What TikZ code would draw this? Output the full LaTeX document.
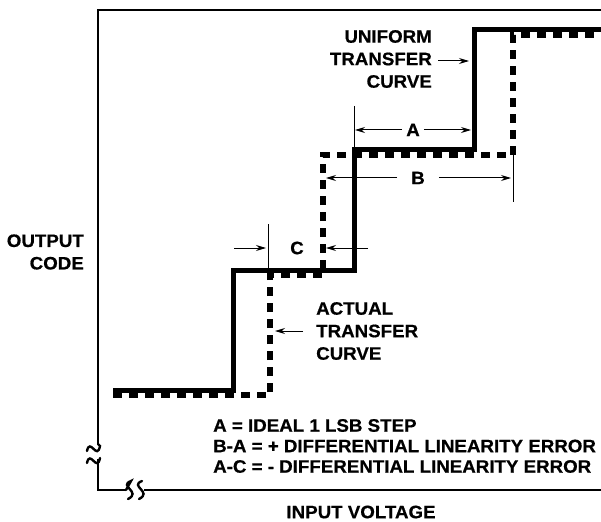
\documentclass[tikz,border=0pt]{standalone}
\usepackage{fontspec}
\setmainfont{Liberation Sans}[FakeStretch=1.04,FakeBold=0.6]
\usetikzlibrary{arrows.meta}
\begin{document}
\begin{tikzpicture}[x=1pt,y=-1pt,
  every node/.style={font=\bfseries\fontsize{18}{22.5}\selectfont, inner sep=0pt},
  axisline/.style={line width=2.4pt},
  uniform/.style={line width=5pt, line join=miter},
  actual/.style={line width=5.5pt, dash pattern=on 9pt off 7pt},
  dimline/.style={line width=1pt},
  dimarrow/.style={line width=1pt, -{Stealth[length=10pt,width=6pt]}},
  legend/.style={font=\bfseries\fontsize{18}{20.5}\selectfont, align=left, anchor=west}]
\useasboundingbox (0,0) rectangle (601,521);
% frame
\coordinate (tl) at (98,10);
\coordinate (tr) at (601,10);
\coordinate (lb1) at (98,444);
\coordinate (lb2) at (98,462);
\coordinate (bl) at (98,490);
\coordinate (bb1) at (126,490);
\coordinate (bb2) at (144,490);
\coordinate (br) at (601,490);
\draw[axisline] (tr) -- (tl) -- (lb1);
\draw[axisline] (lb2) -- (bl) -- (bb1);
\draw[axisline] (bb2) -- (br);
% breaks
\draw[axisline, line cap=round] (87,451) .. controls (90,437) and (97,461) .. (100,446) -- (lb1);
\draw[axisline, line cap=round] (87,463) .. controls (90,449) and (97,473) .. (100,458);
\draw[axisline] (lb2) -- (98,459);
\draw[axisline, line cap=round] (bb1) -- (131,481) .. controls (118,486) and (142,492) .. (128,499);
\draw[axisline, line cap=round] (142,481) .. controls (129,486) and (153,492) .. (139,499);
% uniform transfer curve
\coordinate (u0) at (113,390);
\coordinate (u1) at (233,390);
\coordinate (u2) at (233,270);
\coordinate (u3) at (354,270);
\coordinate (u4) at (354,150);
\coordinate (u5) at (474,150);
\coordinate (u6) at (474,30);
\coordinate (u7) at (601,30);
\draw[uniform] (u0) -- (u1) -- (u2) -- (u3) -- (u4) -- (u5) -- (u6) -- (u7);
% actual transfer curve
\coordinate (a0) at (113,395);
\coordinate (a1) at (270,395);
\coordinate (a2) at (270,275);
\coordinate (a3) at (323,275);
\coordinate (a4) at (323,155);
\coordinate (a5) at (513,155);
\coordinate (a6) at (513,35);
\coordinate (a7) at (601,35);
\draw[actual] (a0) -- (a1) -- (a2) -- (a3) -- (a4) -- (a5) -- (a6) -- (a7);
% dimension A
\coordinate (Aext) at (354,106);
\draw[dimline] (Aext) -- (u4);
\node[inner xsep=4pt] (A) at (413,130) {A};
\coordinate (Al) at (355,130);
\coordinate (Ar) at (471,130);
\draw[dimarrow] (A.west) -- (Al);
\draw[dimarrow] (A.east) -- (Ar);
% dimension B
\coordinate (Bext) at (513,202);
\draw[dimline] (a5) -- (Bext);
\node[inner xsep=14pt] (B) at (418,178) {B};
\coordinate (Bl) at (326,178);
\coordinate (Br) at (511,178);
\draw[dimarrow] (B.west) -- (Bl);
\draw[dimarrow] (B.east) -- (Br);
% dimension C
\coordinate (Cext0) at (268,224);
\coordinate (Cext1) at (268,272);
\draw[dimline] (Cext0) -- (Cext1);
\node (C) at (297,248) {C};
\coordinate (Clt) at (234,248);
\coordinate (Clh) at (266,248);
\coordinate (Crt) at (368,248);
\coordinate (Crh) at (326,248);
\draw[dimarrow] (Clt) -- (Clh);
\draw[dimarrow] (Crt) -- (Crh);
% labels
\node[align=right, anchor=east] (uni) at (432,59) {UNIFORM\\TRANSFER\\CURVE};
\coordinate (unih) at (469,61);
\draw[dimarrow] ([xshift=6pt,yshift=-2pt]uni.east) -- (unih);
\node[align=left, anchor=west] (act) at (316,331) {ACTUAL\\TRANSFER\\CURVE};
\coordinate (acth) at (275,331);
\draw[dimarrow] ([xshift=-13pt]act.west) -- (acth);
\node[align=right, anchor=east] (out) at (84,252) {OUTPUT\\CODE};
\node[legend] (leg) at (213,446) {A = IDEAL 1 LSB STEP\\B-A = + DIFFERENTIAL LINEARITY ERROR\\A-C = - DIFFERENTIAL LINEARITY ERROR};
\node (inp) at (361,512) {INPUT VOLTAGE};
\end{tikzpicture}
\end{document}
